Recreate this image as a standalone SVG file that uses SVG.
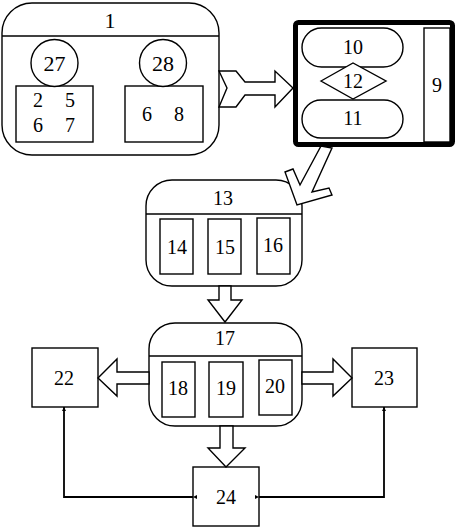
<svg xmlns="http://www.w3.org/2000/svg" width="460" height="529" viewBox="0 0 460 529">
<defs>
<style>
.s{fill:#fff;stroke:#000;stroke-width:1.4}
.n{fill:none;stroke:#000;stroke-width:1.4}
.t{font-family:"Liberation Serif",serif;font-size:20px;text-anchor:middle;dominant-baseline:central;fill:#000}
.big{font-size:22px}
.ln{fill:none;stroke:#000;stroke-width:1.8}
</style>
<marker id="ah" viewBox="0 0 6 6" refX="6" refY="3" markerWidth="4" markerHeight="4" orient="auto" markerUnits="userSpaceOnUse">
<path d="M0,0 L6,3 L0,6 Z" fill="#000"/>
</marker>
</defs>
<rect width="460" height="529" fill="#fff"/>

<g id="node1">
<rect class="s" x="2" y="3" width="217" height="152" rx="30" ry="30"/>
<line class="n" x1="2" y1="36" x2="219" y2="36"/>
<text class="t big" x="110" y="20">1</text>
<rect class="s" x="16" y="86" width="77" height="56"/>
<circle class="s" cx="54.5" cy="63" r="23.5"/>
<text class="t big" x="54.5" y="63">27</text>
<text class="t" x="38" y="100">2</text>
<text class="t" x="70" y="100">5</text>
<text class="t" x="38" y="125">6</text>
<text class="t" x="70" y="125">7</text>
<rect class="s" x="125" y="86" width="78" height="56"/>
<circle class="s" cx="163" cy="63" r="23.5"/>
<text class="t big" x="163" y="63">28</text>
<text class="t" x="147" y="114">6</text>
<text class="t" x="179" y="114">8</text>
</g>

<g id="node9">
<rect x="295.5" y="22.5" width="157" height="122" rx="3" fill="#fff" stroke="#000" stroke-width="5"/>
<rect class="s" x="302" y="28" width="101" height="39" rx="19.5"/>
<text class="t" x="353" y="47">10</text>
<rect class="s" x="302" y="100" width="101" height="38" rx="19"/>
<text class="t" x="353" y="118">11</text>
<polygon class="s" points="321,81 353,63 386,81 353,99"/>
<text class="t" x="353" y="81">12</text>
<rect class="s" x="424" y="28" width="26" height="114"/>
<text class="t" x="437" y="85">9</text>
</g>

<g id="node13">
<rect class="s" x="146" y="180" width="156" height="106" rx="26" ry="26"/>
<line class="n" x1="146" y1="214" x2="302" y2="214"/>
<text class="t" x="223" y="198">13</text>
<rect class="s" x="160" y="219" width="33" height="55"/>
<text class="t" x="177" y="247">14</text>
<rect class="s" x="208" y="219" width="33" height="55"/>
<text class="t" x="225" y="247">15</text>
<rect class="s" x="257" y="218" width="33" height="56"/>
<text class="t" x="273" y="245">16</text>
</g>

<g id="node17">
<rect class="s" x="149" y="323" width="153" height="103" rx="26" ry="26"/>
<line class="n" x1="149" y1="356" x2="302" y2="356"/>
<text class="t" x="225" y="338">17</text>
<rect class="s" x="162" y="362" width="33" height="55"/>
<text class="t" x="178" y="388">18</text>
<rect class="s" x="209" y="362" width="34" height="55"/>
<text class="t" x="226" y="388">19</text>
<rect class="s" x="259" y="360" width="33" height="55"/>
<text class="t" x="275" y="386">20</text>
</g>

<g id="node22">
<rect class="s" x="32" y="348" width="66" height="59"/>
<text class="t" x="64" y="378">22</text>
</g>
<g id="node23">
<rect class="s" x="352" y="348" width="65" height="59"/>
<text class="t" x="384" y="378">23</text>
</g>
<g id="node24">
<rect class="s" x="193" y="467" width="66" height="59"/>
<text class="t" x="226" y="497">24</text>
</g>

<g id="connectors">
<polygon class="s" points="219,71 236,71 245,82 275,82 275,71 293,88 275,107 275,95 245,95 236,107 219,107 227,88"/>
<polygon class="s" points="321,146 332,148 312,192 329,188 332,195 297,205 285,172 293,169 300,185"/>
<polygon class="s" points="219,286 231,286 231,300 242,300 225,322 208,300 219,300"/>
<polygon class="s" points="149,372 117,372 117,359 98,378 117,396 117,384 149,384"/>
<polygon class="s" points="302,372 333,372 333,359 352,378 333,396 333,384 302,384"/>
<polygon class="s" points="220,426 233,426 233,448 245,448 226,467 208,448 220,448"/>
<polyline class="ln" points="193,497 64,497 64,407" marker-end="url(#ah)" marker-start="url(#ah)"/>
<polyline class="ln" points="259,497 384,497 384,407" marker-end="url(#ah)" marker-start="url(#ah)"/>
</g>
</svg>
